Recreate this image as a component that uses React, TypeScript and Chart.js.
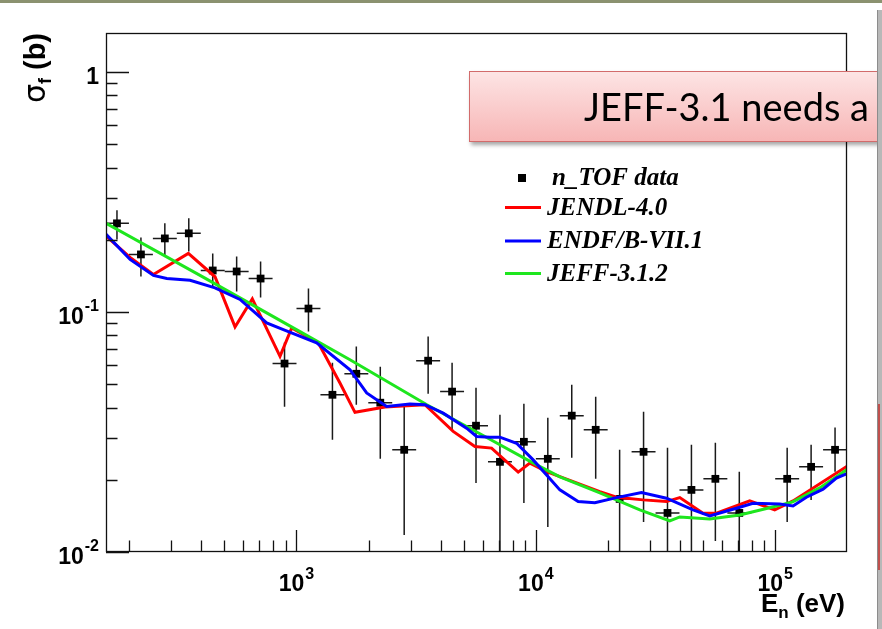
import React, { useEffect, useRef } from "react";
import { Chart, registerables } from "chart.js";
Chart.register(...registerables);

// n_TOF data points (eV, barn)
const energies = [177.8, 223.9, 281.8, 354.8, 446.7, 562.3, 707.9, 891.3, 1122, 1413, 1778, 2239, 2818, 3548, 4467, 5623, 7079, 8913, 11220, 14125, 17783, 22387, 28184, 35481, 44668, 56234, 70795, 112202, 141254, 177828];
const binLow = [158.5, 199.5, 251.2, 316.2, 398.1, 501.2, 631.0, 794.3, 1000, 1259, 1585, 1995, 2512, 3162, 3981, 5012, 6310, 7943, 10000, 12589, 15849, 19953, 25119, 31623, 39811, 50119, 63096, 100000, 125893, 158489];
const binHigh = [199.5, 251.2, 316.2, 398.1, 501.2, 631.0, 794.3, 1000, 1259, 1585, 1995, 2512, 3162, 3981, 5012, 6310, 7943, 10000, 12589, 15849, 19953, 25119, 31623, 39811, 50119, 63096, 79433, 125893, 158489, 199526];
const sigma = [0.2342, 0.1738, 0.2027, 0.2128, 0.149, 0.1476, 0.1379, 0.061, 0.1034, 0.0452, 0.0553, 0.0419, 0.02666, 0.0627, 0.0466, 0.0336, 0.02375, 0.02879, 0.02445, 0.037, 0.0323, 0.01664, 0.02615, 0.01455, 0.01815, 0.02018, 0.01455, 0.02018, 0.02264, 0.02666];
const sigmaHigh = [0.2653, 0.2047, 0.2342, 0.2457, 0.1755, 0.1705, 0.1625, 0.0746, 0.1253, 0.0615, 0.0718, 0.0592, 0.0403, 0.079, 0.0615, 0.0484, 0.0373, 0.0415, 0.0363, 0.0498, 0.0444, 0.02666, 0.0384, 0.02718, 0.02798, 0.02852, 0.02158, 0.02718, 0.02798, 0.033];
const sigmaLow = [0.2008, 0.1407, 0.1705, 0.1789, 0.1278, 0.1218, 0.1149, 0.0403, 0.0829, 0.02935, 0.0411, 0.02445, 0.01178, 0.0457, 0.0323, 0.01941, 0.0099, 0.01602, 0.01272, 0.02469, 0.02018, 0.0099, 0.01334, 0.0099, 0.0099, 0.01112, 0.0099, 0.01334, 0.01649, 0.02158];

// Evaluated curves
const jendlE = [160.2, 201.7, 252.5, 353.3, 456.6, 553.6, 653.8, 853.4, 955, 1233, 1519, 1755, 2342, 3440, 4515, 5564, 6531, 8437, 9441, 11084, 18510, 21730, 28050, 35130, 39940, 49940, 56830, 78260, 99520, 118700, 198900];
const jendlS = [0.2073, 0.1689, 0.1434, 0.1755, 0.1403, 0.0867, 0.1135, 0.0654, 0.0859, 0.0744, 0.0506, 0.0382, 0.0402, 0.0411, 0.0318, 0.02753, 0.0271, 0.02152, 0.02346, 0.02164, 0.01786, 0.01692, 0.01649, 0.01622, 0.01685, 0.01451, 0.01451, 0.01633, 0.01498, 0.01633, 0.02271];
const endfE = [160.2, 201.7, 252.5, 287.1, 359.2, 456.6, 580.9, 750.6, 881, 1214, 1673, 1964, 2380, 2978, 3440, 4102, 5135, 5655, 6427, 7075, 8308, 9743, 12600, 15020, 17640, 21730, 27630, 35130, 45370, 53280, 68870, 80790, 104400, 118700, 135000, 158500, 180100, 198400];
const endfS = [0.2107, 0.1656, 0.1421, 0.1379, 0.1357, 0.1262, 0.1128, 0.0901, 0.0845, 0.0744, 0.0575, 0.046, 0.0404, 0.0414, 0.0411, 0.0379, 0.0328, 0.0303, 0.0301, 0.0301, 0.0284, 0.0242, 0.01815, 0.01622, 0.01606, 0.01685, 0.01769, 0.01676, 0.01498, 0.01414, 0.01522, 0.01597, 0.01586, 0.01556, 0.01692, 0.01827, 0.02031, 0.02117];
const jeffE = [160.2, 395.4, 1034, 1673, 3506, 5838, 9716, 12600, 18510, 27190, 36260, 39940, 53280, 71090, 97630, 118300, 153400, 198900];
const jeffS = [0.2342, 0.1421, 0.0829, 0.0633, 0.0411, 0.0311, 0.02352, 0.02056, 0.01763, 0.01498, 0.01347, 0.014, 0.01373, 0.01427, 0.01541, 0.01618, 0.0185, 0.022];

const seriesLabels = ["n_TOF data", "JENDL-4.0", "ENDF/B-VII.1", "JEFF-3.1.2"];
const seriesColors = ["#000000", "#ff0000", "#0000ff", "#1ee61e"];

// Axis ticks
const xMin = 160;
const xMax = 199500;
const yMin = 0.01;
const yMax = 1.455;
const xMajor = [1000, 10000, 100000];
const xMajorBase = ["10", "10", "10"];
const xMajorExp = ["3", "4", "5"];
const xMinor = [200, 300, 400, 500, 600, 700, 800, 900, 2000, 3000, 4000, 5000, 6000, 7000, 8000, 9000, 20000, 30000, 40000, 50000, 60000, 70000, 80000, 90000];
const yMajor = [0.01, 0.1, 1];
const yMajorBase = ["10", "10", "1"];
const yMajorExp = ["-2", "-1", ""];
const yMinor = [0.02, 0.03, 0.04, 0.05, 0.06, 0.07, 0.08, 0.09, 0.2, 0.3, 0.4, 0.5, 0.6, 0.7, 0.8, 0.9];

const xTitleMain = "E";
const xTitleSub = "n";
const xTitleRest = " (eV)";
const yTitleMain = "σ";
const yTitleSub = "f";
const yTitleRest = " (b)";

const errorBarPlugin = {
  id: "errorBars",
  beforeDatasetsDraw(chart: any) {
    const { ctx, chartArea, scales } = chart;
    const xs = scales.x;
    const ys = scales.y;
    ctx.save();
    ctx.beginPath();
    ctx.rect(chartArea.left, chartArea.top, chartArea.right - chartArea.left, chartArea.bottom - chartArea.top);
    ctx.clip();
    ctx.strokeStyle = "#1a1a1a";
    ctx.lineWidth = 1.5;
    for (let i = 0; i < energies.length; i++) {
      const px = xs.getPixelForValue(energies[i]);
      const py = ys.getPixelForValue(sigma[i]);
      ctx.beginPath();
      ctx.moveTo(xs.getPixelForValue(binLow[i]), py);
      ctx.lineTo(xs.getPixelForValue(binHigh[i]), py);
      ctx.moveTo(px, ys.getPixelForValue(sigmaHigh[i]));
      ctx.lineTo(px, ys.getPixelForValue(sigmaLow[i]));
      ctx.stroke();
    }
    ctx.restore();
  },
};

function drawPow(ctx: CanvasRenderingContext2D, base: string, exp: string, x: number, baseY: number, supY: number, align: string) {
  const mainFont = 'bold 23px "Liberation Sans"';
  const supFont = 'bold 16px "Liberation Sans"';
  ctx.font = mainFont;
  const wb = ctx.measureText(base).width;
  ctx.font = supFont;
  const we = exp ? ctx.measureText(exp).width + 1 : 0;
  const total = wb + we;
  let left = x;
  if (align === "right") left = x - total;
  else if (align === "center") left = x - total / 2;
  ctx.textAlign = "left";
  ctx.textBaseline = "alphabetic";
  ctx.font = mainFont;
  ctx.fillText(base, left, baseY);
  if (exp) {
    ctx.font = supFont;
    ctx.fillText(exp, left + wb + 1, supY);
  }
}

const framePlugin = {
  id: "frameTicks",
  afterDraw(chart: any) {
    const { ctx, chartArea, scales } = chart;
    const xs = scales.x;
    const ys = scales.y;
    const { left, right, top, bottom } = chartArea;
    ctx.save();
    ctx.strokeStyle = "#111";
    ctx.lineWidth = 1.3;
    ctx.strokeRect(left + 0.5, top + 0.5, right - left - 1, bottom - top - 1);
    ctx.beginPath();
    xMajor.forEach((v) => {
      const p = Math.round(xs.getPixelForValue(v)) + 0.5;
      ctx.moveTo(p, bottom);
      ctx.lineTo(p, bottom - 22);
    });
    xMinor.forEach((v) => {
      if (v < xMin || v > xMax) return;
      const p = Math.round(xs.getPixelForValue(v)) + 0.5;
      ctx.moveTo(p, bottom);
      ctx.lineTo(p, bottom - 11.5);
    });
    yMajor.forEach((v) => {
      const p = Math.round(ys.getPixelForValue(v)) + 0.5;
      ctx.moveTo(left, p);
      ctx.lineTo(left + 23, p);
    });
    yMinor.forEach((v) => {
      if (v < yMin || v > yMax) return;
      const p = Math.round(ys.getPixelForValue(v)) + 0.5;
      ctx.moveTo(left, p);
      ctx.lineTo(left + 11.5, p);
    });
    ctx.stroke();

    ctx.fillStyle = "#000";
    xMajor.forEach((v, i) => {
      const p = xs.getPixelForValue(v);
      drawPow(ctx, xMajorBase[i], xMajorExp[i], p, bottom + 39, bottom + 27, "center");
    });
    yMajor.forEach((v, i) => {
      const p = ys.getPixelForValue(v);
      drawPow(ctx, yMajorBase[i], yMajorExp[i], left - 7, p + 12, p - 1, "right");
    });

    // x title
    const tMain = 'bold 26px "Liberation Sans"';
    const tSub = 'bold 17px "Liberation Sans"';
    ctx.font = tMain;
    const wE = ctx.measureText(xTitleMain).width;
    const wRest = ctx.measureText(xTitleRest).width;
    ctx.font = tSub;
    const wN = ctx.measureText(xTitleSub).width;
    let xx = right - 2 - (wE + wN + wRest);
    const by = 612;
    ctx.textAlign = "left";
    ctx.textBaseline = "alphabetic";
    ctx.font = tMain;
    ctx.fillText(xTitleMain, xx, by);
    xx += wE;
    ctx.font = tSub;
    ctx.fillText(xTitleSub, xx, by + 6);
    xx += wN;
    ctx.font = tMain;
    ctx.fillText(xTitleRest, xx, by);

    // y title (rotated)
    ctx.save();
    ctx.translate(45, top);
    ctx.rotate(-Math.PI / 2);
    const yMainFont = 'bold 29px "Liberation Sans"';
    const ySubFont = 'bold 18px "Liberation Sans"';
    const sigFont = '30px "DejaVu Sans"';
    ctx.font = sigFont;
    const ws = ctx.measureText(yTitleMain).width;
    ctx.font = ySubFont;
    const wf = ctx.measureText(yTitleSub).width;
    ctx.font = yMainFont;
    const wb = ctx.measureText(yTitleRest).width;
    let yy = -(ws + wf + wb);
    ctx.font = sigFont;
    ctx.fillText(yTitleMain, yy, 0);
    yy += ws;
    ctx.font = ySubFont;
    ctx.fillText(yTitleSub, yy, 6);
    yy += wf;
    ctx.font = yMainFont;
    ctx.fillText(yTitleRest, yy, 0);
    ctx.restore();

    // legend
    const legFont = 'italic bold 25px "Liberation Serif"';
    ctx.font = legFont;
    ctx.textBaseline = "middle";
    const legY = [178, 207.5, 241, 273.5];
    chart.data.datasets.forEach((ds: any, i: number) => {
      const y = legY[i];
      if (i === 0) {
        ctx.fillStyle = ds.backgroundColor;
        ctx.fillRect(518, y - 4, 8, 8);
        ctx.fillStyle = "#000";
        ctx.fillText(ds.label, 552, y + 1);
      } else {
        ctx.strokeStyle = ds.borderColor;
        ctx.lineWidth = 3;
        ctx.beginPath();
        ctx.moveTo(505, y);
        ctx.lineTo(541, y);
        ctx.stroke();
        ctx.fillStyle = "#000";
        ctx.fillText(ds.label, 547, y + 1);
      }
    });
    ctx.restore();
  },
};

export default function App() {
  const ref = useRef<HTMLCanvasElement>(null);
  useEffect(() => {
    document.body.style.margin = "0";
    const canvas = ref.current;
    if (!canvas) return;
    const mk = (xsArr: number[], ysArr: number[]) => xsArr.map((x, i) => ({ x, y: ysArr[i] }));
    const chart = new Chart(canvas, {
      type: "scatter",
      data: {
        datasets: [
          {
            type: "scatter",
            label: seriesLabels[0],
            data: mk(energies, sigma),
            pointStyle: "rect",
            pointRadius: 5.5,
            backgroundColor: seriesColors[0],
            borderColor: seriesColors[0],
            borderWidth: 0,
            order: 10,
          } as any,
          {
            type: "line",
            label: seriesLabels[1],
            data: mk(jendlE, jendlS),
            borderColor: seriesColors[1],
            backgroundColor: seriesColors[1],
            borderWidth: 3,
            pointRadius: 0,
            tension: 0,
            fill: false,
            order: 3,
          } as any,
          {
            type: "line",
            label: seriesLabels[2],
            data: mk(endfE, endfS),
            borderColor: seriesColors[2],
            backgroundColor: seriesColors[2],
            borderWidth: 3,
            pointRadius: 0,
            tension: 0,
            fill: false,
            order: 1,
          } as any,
          {
            type: "line",
            label: seriesLabels[3],
            data: mk(jeffE, jeffS),
            borderColor: seriesColors[3],
            backgroundColor: seriesColors[3],
            borderWidth: 3,
            pointRadius: 0,
            tension: 0,
            fill: false,
            order: 2,
          } as any,
        ],
      },
      options: {
        responsive: false,
        animation: false,
        devicePixelRatio: 1,
        layout: { padding: { left: 106, top: 33, right: 35, bottom: 77 } },
        plugins: { legend: { display: false }, tooltip: { enabled: false } },
        scales: {
          x: { type: "logarithmic", min: xMin, max: xMax, display: false },
          y: { type: "logarithmic", min: yMin, max: yMax, display: false },
        },
      } as any,
      plugins: [errorBarPlugin, framePlugin],
    });
    return () => chart.destroy();
  }, []);

  return (
    <div style={{ position: "relative", width: 882, height: 629, background: "#fff", overflow: "hidden" }}>
      <canvas ref={ref} width={882} height={629} style={{ position: "absolute", left: 0, top: 0, width: 882, height: 629 }} />
      <div style={{ position: "absolute", left: 0, top: 0, width: 882, height: 3, background: "#8b9270" }} />
      <div
        style={{
          position: "absolute",
          left: 469,
          top: 71,
          width: 440,
          height: 71,
          boxSizing: "border-box",
          border: "1px solid #d26b6b",
          background: "linear-gradient(#fde4e4, #f7b6b6)",
          boxShadow: "2px 3px 4px rgba(0,0,0,0.35)",
          overflow: "hidden",
        }}
      >
        <span
          style={{
            position: "absolute",
            left: 114,
            top: 12,
            font: "38px Lato",
            lineHeight: "44px",
            color: "#000",
            whiteSpace: "nowrap",
          }}
        >
          JEFF-3.1 needs a renormalization
        </span>
      </div>
      <div style={{ position: "absolute", left: 877, top: 10, width: 5, height: 619, background: "#b8b8b8", borderLeft: "1px solid #8c8c8c" }} />
      <div style={{ position: "absolute", left: 878, top: 404, width: 2, height: 166, background: "#c0504d" }} />
    </div>
  );
}
